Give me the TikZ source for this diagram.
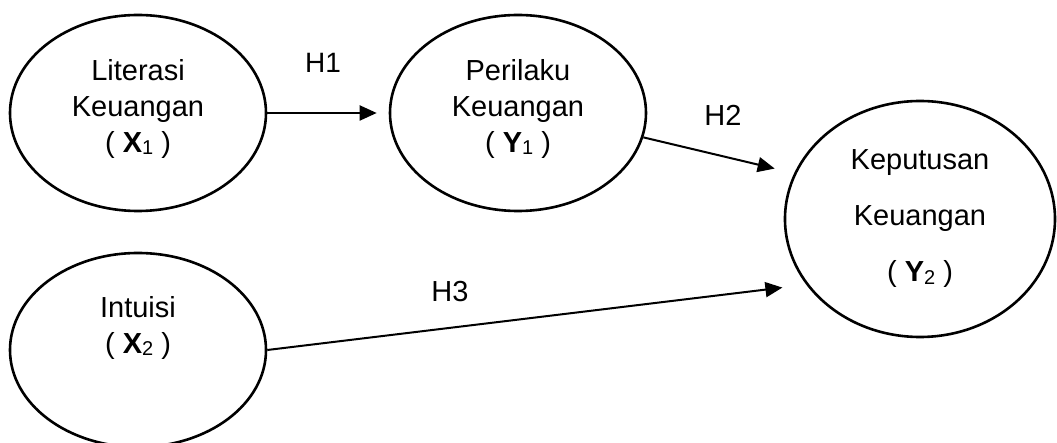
\documentclass[tikz,border=0pt]{standalone}
\usepackage{fontspec}
\setmainfont{Liberation Sans}
\usetikzlibrary{shapes.geometric,arrows.meta}

\newcommand{\varname}[2]{( \textbf{#1}\raisebox{-0.15ex}{\fontsize{10}{10}\selectfont #2} )}

\begin{document}
\begin{tikzpicture}[x=0.5pt,y=-0.5pt]
        \useasboundingbox (0,0) rectangle (1057,443);
        \begin{scope}[every node/.style={ellipse,draw,line width=1.3pt,inner sep=0pt,align=center,font=\fontsize{14.5}{18}\selectfont}]
            \node[minimum width=128pt,minimum height=98pt,text depth=7pt] (X1) at (138,113) {Literasi\\Keuangan\\\varname{X}{1}};
            \node[minimum width=128pt,minimum height=98pt,text depth=7pt] (Y1) at (518,113) {Perilaku\\Keuangan\\\varname{Y}{1}};
            \node[minimum width=135pt,minimum height=118pt,font=\fontsize{14.5}{28}\selectfont] (Y2) at (920,219) {Keputusan\\Keuangan\\\varname{Y}{2}};
            \node[minimum width=128pt,minimum height=97pt,text depth=25pt] (X2) at (138,350) {Intuisi\\\varname{X}{2}};
        \end{scope}
        \begin{scope}[every node/.style={font=\fontsize{14.5}{17}\selectfont}]
            \node[font=\fontsize{14}{17}\selectfont] (H1) at (323,63) {H1};
            \node (H2) at (723,115) {H2};
            \node (H3) at (450,292) {H3};
        \end{scope}
        \draw [-{Triangle[length=8.5pt,width=7.5pt]},line width=1pt,shorten >=6pt] (X1) -- (Y1);
        \draw [-{Triangle[length=8.5pt,width=7.5pt]},line width=1pt,shorten >=10pt] (Y1.-11) -- (Y2.160);
        \draw [-{Triangle[length=8.5pt,width=7.5pt]},line width=1pt,shorten >=12pt] (X2.east) -- (Y2.210);
    \end{tikzpicture}
\end{document}
